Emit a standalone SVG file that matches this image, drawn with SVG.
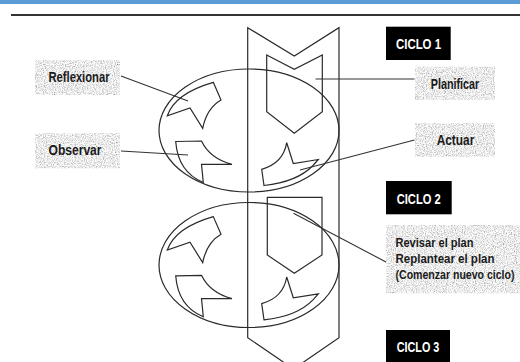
<svg xmlns="http://www.w3.org/2000/svg" width="520" height="362" viewBox="0 0 520 362">
<style>
.ln{fill:none;stroke:#333;stroke-width:1.1;stroke-linejoin:miter}
.sh{fill:none;stroke:#2a2a2a;stroke-width:1.2;stroke-linejoin:miter}
.box{fill:#d6d6d6}
.lbl{font-family:'Liberation Sans Narrow','Liberation Sans',Arial,sans-serif;font-weight:bold;font-size:14px;fill:#1a1a1a}
.lbl2{font-family:'Liberation Sans Narrow','Liberation Sans',Arial,sans-serif;font-weight:bold;font-size:11px;fill:#1a1a1a}
.cyc{fill:#000}
.ct{font-family:'Liberation Sans Narrow','Liberation Sans',Arial,sans-serif;font-weight:bold;font-size:14.5px;fill:#fff}
</style>
<defs>
<filter id="grain" x="0" y="0" width="100%" height="100%">
<feTurbulence type="fractalNoise" baseFrequency="0.9" numOctaves="2" seed="4" result="n"/>
<feColorMatrix in="n" type="matrix" values="1.3 0 0 0 0.18  1.3 0 0 0 0.18  1.3 0 0 0 0.18  0 0 0 0 1" result="g"/>
<feComposite in="g" in2="SourceGraphic" operator="in"/>
</filter>
<g id="shapesA">
<path class="sh" d="M167.3,115.7 Q175,93.3 213.3,82.3 L221,100 Q206.7,108.3 202.7,128.3 L190,108 Z"/>
<path class="sh" d="M175.7,141.5 L201.5,141 Q210,158.7 232,164.3 L201.5,164.3 L203.3,182.5 Q178,172 175.7,141.5 Z"/>
<path class="sh" d="M286.7,142.7 L293.3,163.5 L318.3,159.5 L313,165.5 Q297,182 264,185.5 L261.7,169.3 Q283.3,163.3 286.7,142.7 Z"/>
</g>
</defs>
<rect x="0" y="0" width="520" height="4" fill="#5b9bd5"/>
<line x1="11" y1="15" x2="520" y2="15" stroke="#333" stroke-width="2"/>

<g id="band">
<path class="sh" d="M247.7,27.7 L294.3,56 L339,27.7 L339,337.7 L293.5,369 L247.7,337.7 Z"/>
</g>

<g id="cycle1">
<ellipse class="sh" cx="249" cy="130.5" rx="90" ry="61.5"/>
<use href="#shapesA"/>
<path class="sh" d="M266.7,55 L294.3,69.3 L322.3,55 L322.3,111.7 L294.3,133.3 L266.7,111.7 Z"/>
</g>

<g id="cycle2">
<ellipse class="sh" cx="249" cy="265" rx="90" ry="62.5"/>
<use href="#shapesA" transform="translate(0,134.3)"/>
<path class="sh" d="M267.3,197.3 L322,197.3 L322,255 L294.3,273.3 L267.3,255 Z"/>
</g>

<g id="connectors">
<line class="ln" x1="121" y1="76" x2="188" y2="101"/>
<line class="ln" x1="121" y1="151" x2="188" y2="155"/>
<line class="ln" x1="315.5" y1="79" x2="414.5" y2="79"/>
<line class="ln" x1="414.5" y1="140" x2="300" y2="170"/>
<line class="ln" x1="293.5" y1="213.3" x2="386" y2="262"/>
</g>

<g id="reflexionar">
<rect class="box" x="35" y="60" width="85" height="35" filter="url(#grain)"/>
<text class="lbl" x="79" y="82" text-anchor="middle" textLength="61" lengthAdjust="spacingAndGlyphs">Reflexionar</text>
</g>
<g id="observar">
<rect class="box" x="35" y="133.3" width="85" height="35" filter="url(#grain)"/>
<text class="lbl" x="75" y="154.5" text-anchor="middle" textLength="53" lengthAdjust="spacingAndGlyphs">Observar</text>
</g>
<g id="planificar">
<rect class="box" x="415" y="66.7" width="80" height="33.3" filter="url(#grain)"/>
<text class="lbl" x="455" y="88.5" text-anchor="middle" textLength="48.6" lengthAdjust="spacingAndGlyphs">Planificar</text>
</g>
<g id="actuar">
<rect class="box" x="415" y="123.3" width="80" height="33.4" filter="url(#grain)"/>
<text class="lbl" x="455.5" y="144.5" text-anchor="middle" textLength="37.6" lengthAdjust="spacingAndGlyphs">Actuar</text>
</g>
<g id="revisar">
<rect class="box" x="386" y="225" width="134" height="68.3" filter="url(#grain)"/>
<text class="lbl2" transform="translate(395.5,247) scale(1,1.2)" textLength="78" lengthAdjust="spacingAndGlyphs">Revisar el plan</text>
<text class="lbl2" transform="translate(395.5,262.5) scale(1,1.2)" textLength="99" lengthAdjust="spacingAndGlyphs">Replantear el plan</text>
<text class="lbl2" transform="translate(395.5,278.5) scale(1,1.2)" textLength="119" lengthAdjust="spacingAndGlyphs">(Comenzar nuevo ciclo)</text>
</g>

<g id="ciclo1">
<rect class="cyc" x="386" y="26.7" width="64.7" height="33.3"/>
<text class="ct" x="396" y="48.5" textLength="45" lengthAdjust="spacingAndGlyphs">CICLO 1</text>
</g>
<g id="ciclo2">
<rect class="cyc" x="386" y="181" width="65.7" height="33.3"/>
<text class="ct" x="396.7" y="203.5" textLength="44" lengthAdjust="spacingAndGlyphs">CICLO 2</text>
</g>
<g id="ciclo3">
<rect class="cyc" x="386" y="330" width="64" height="32"/>
<text class="ct" x="396.7" y="352" textLength="42.6" lengthAdjust="spacingAndGlyphs">CICLO 3</text>
</g>
</svg>
